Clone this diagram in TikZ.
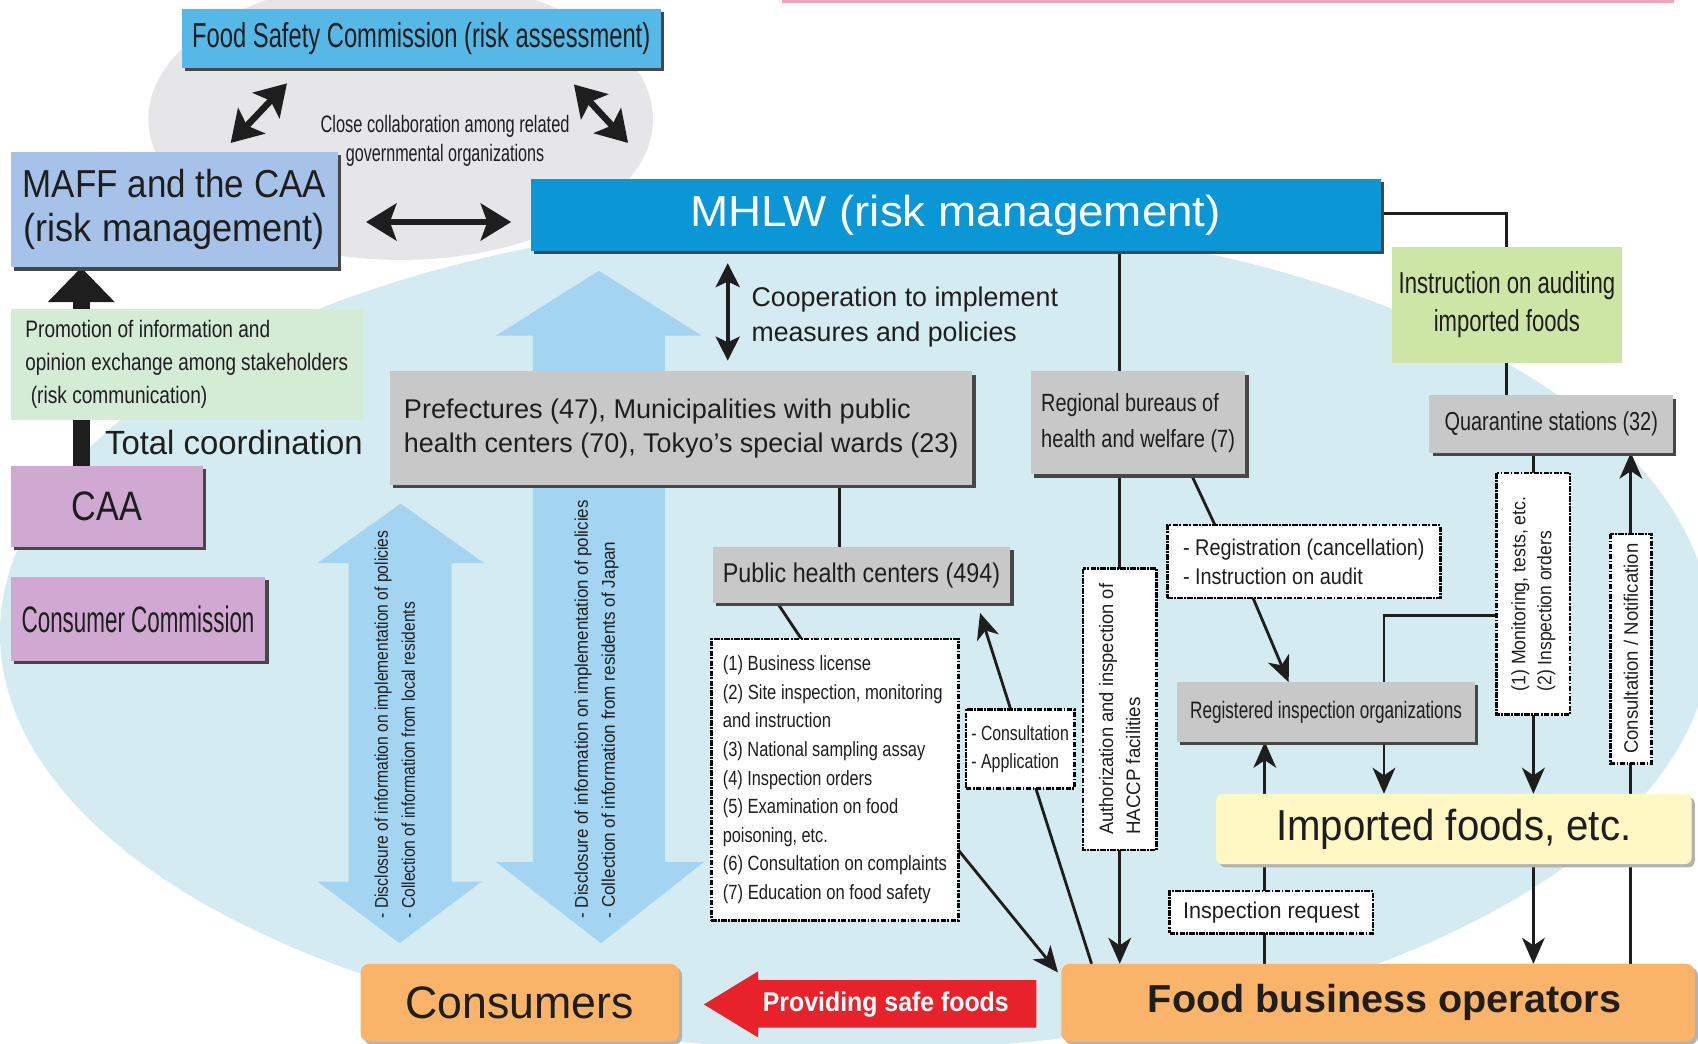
\documentclass[tikz,border=0pt]{standalone}
\usepackage{fontspec}
\setmainfont{Liberation Sans}
\usepackage{graphicx}
\usetikzlibrary{arrows.meta,shadows,calc}
\pgfdeclarelayer{back}\pgfdeclarelayer{lines}\pgfsetlayers{back,lines,main}
\definecolor{bgblue}{HTML}{D5EBF2}
\definecolor{bggray}{HTML}{E6E6E8}
\definecolor{pinkl}{HTML}{F2A3B8}
\definecolor{arrblue}{HTML}{A3D5F2}
\definecolor{fscblue}{HTML}{56B8E6}
\definecolor{maffblue}{HTML}{A6C2E8}
\definecolor{mhlwblue}{HTML}{0B96D6}
\definecolor{promogreen}{HTML}{D4EBD6}
\definecolor{caapink}{HTML}{D0A9D3}
\definecolor{gbox}{HTML}{C8C8C8}
\definecolor{instgreen}{HTML}{CDE5A5}
\definecolor{impyellow}{HTML}{FFF8C4}
\definecolor{orangec}{HTML}{FAB46A}
\definecolor{redc}{HTML}{E8222A}
\definecolor{txt}{HTML}{1E1E1E}
\newcommand\fw[2]{\resizebox{#1pt}{\height}{#2}}
\begin{document}
\begin{tikzpicture}[x=1pt,y=-1pt,
 box/.style={draw=none,inner sep=0pt,outer sep=0pt,text=txt,align=center},
 shd/.style={drop shadow={shadow xshift=3pt,shadow yshift=-3pt,fill=black!72,opacity=1}},
 softshd/.style={drop shadow={shadow xshift=3pt,shadow yshift=-3pt,fill=black!30,opacity=1}},
 dbox/.style={draw=black,line width=2.3pt,dash pattern=on 5pt off 1.3pt on 1.6pt off 1.3pt,fill=white,inner sep=0pt,outer sep=0pt,text=txt},
 con/.style={line width=2.6pt,draw=txt},
 arr/.style={con,-{Stealth[length=24pt,width=21pt,inset=7pt]}},
 dbl/.style={line width=6pt,draw=txt,{Stealth[length=28pt,width=34pt,inset=6pt]}-{Stealth[length=28pt,width=34pt,inset=6pt]}},
 dblm/.style={line width=4pt,draw=txt,{Stealth[length=22pt,width=22pt,inset=5pt]}-{Stealth[length=22pt,width=22pt,inset=5pt]}}
]
\useasboundingbox (0,0) rectangle (1568,964);
\begin{pgfonlayer}{back}
\clip (0,0) rectangle (1568,964);
\fill[bggray] (370,110) ellipse [x radius=233pt, y radius=130pt];
\fill[bgblue] (790,585) ellipse [x radius=790pt, y radius=385pt];
\fill[pinkl] (722,0) rectangle (1546,2.5);
\fill[arrblue] (370,465) -- (447,520) -- (417,520) -- (417,814) -- (445,814) -- (369,871) -- (293,814) -- (322,814) -- (322,520) -- (293,520) -- cycle;
\fill[arrblue] (553,250) -- (648,310) -- (614,310) -- (614,796) -- (650,796) -- (555,871) -- (458,796) -- (492,796) -- (492,310) -- (458,310) -- cycle;
\end{pgfonlayer}

% nodes
\node[box,fill=fscblue,shd,minimum width=442pt,minimum height=55pt,font=\fontsize{32}{36}\selectfont] (fsc) at (389,35.5) {\fw{423}{Food Safety Commission (risk assessment)}};
\node[box,fill=maffblue,shd,minimum width=302pt,minimum height=107pt,font=\fontsize{36}{40}\selectfont] (maff) at (161,193.5) {\fw{280}{MAFF and the CAA}\\\fw{278}{(risk management)}};
\node[box,fill=mhlwblue,shd,minimum width=785pt,minimum height=67pt,text=white,font=\fontsize{40}{44}\selectfont] (mhlw) at (882.5,198.5) {\fw{490}{MHLW (risk management)}};
\node[box,font=\fontsize{22}{26}\selectfont] (close) at (411,130) {\fw{230}{Close collaboration among related}\\\fw{183}{governmental organizations}};
\node[box,fill=promogreen,minimum width=325pt,minimum height=103pt,align=left,font=\fontsize{22}{30.5}\selectfont] (promo) at (172.5,336.5) {\fw{226}{Promotion of information and}\\\fw{298}{opinion exchange among stakeholders}\\\hspace{5pt}\fw{163}{(risk communication)}};
\node[box,anchor=west,font=\fontsize{31}{34}\selectfont] (totc) at (97,409) {\fw{238}{Total coordination}};
\node[box,fill=caapink,shd,minimum width=177pt,minimum height=75pt,font=\fontsize{38}{40}\selectfont] (caa) at (98.5,467.5) {\fw{65}{CAA}};
\node[box,fill=caapink,shd,minimum width=235pt,minimum height=77pt,font=\fontsize{34}{36}\selectfont] (cc) at (127.5,571.5) {\fw{215}{Consumer Commission}};
\node[box,anchor=west,align=left,font=\fontsize{25}{32}\selectfont] (coop) at (694,293) {\fw{283}{Cooperation to implement}\\\fw{245}{measures and policies}};
\node[box,fill=gbox,shd,minimum width=538pt,minimum height=105pt,align=left,font=\fontsize{25}{31}\selectfont] (pref) at (629,395.5) {\fw{468}{Prefectures (47), Municipalities with public}\\\fw{512}{health centers (70), Tokyo’s special wards (23)}};
\node[box,fill=gbox,shd,minimum width=275pt,minimum height=52pt,font=\fontsize{25}{28}\selectfont] (phc) at (795.5,531) {\fw{256}{Public health centers (494)}};
\node[dbox,minimum width=228pt,minimum height=260pt,align=left,font=\fontsize{19}{26.4}\selectfont] (list) at (771,720) {\fw{137}{(1) Business license}\\\fw{203}{(2) Site inspection, monitoring}\\\fw{100}{and instruction}\\\fw{187}{(3) National sampling assay}\\\fw{138}{(4) Inspection orders}\\\fw{162}{(5) Examination on food}\\\fw{97}{poisoning, etc.}\\\fw{207}{(6) Consultation on complaints}\\\fw{192}{(7) Education on food safety}};
\node[dbox,minimum width=100pt,minimum height=73pt,align=left,font=\fontsize{19}{26}\selectfont] (consul) at (942,691.5) {\fw{90}{- Consultation}\\\fw{81}{- Application}};
\node[box,fill=gbox,shd,minimum width=198pt,minimum height=95pt,align=left,font=\fontsize{23}{33}\selectfont] (reg) at (1051,390.5) {\fw{164}{Regional bureaus of}\\\fw{179}{health and welfare (7)}};
\node[dbox,rotate=90,minimum width=260pt,minimum height=68pt,align=left,font=\fontsize{18}{25}\selectfont] (auth) at (1034,655) {\fw{232}{Authorization and inspection of}\\\fw{127}{HACCP facilities}};
\node[dbox,minimum width=252pt,minimum height=67pt,align=left,font=\fontsize{21}{27}\selectfont] (regis) at (1204,518.5) {\fw{223}{- Registration (cancellation)}\\\fw{166}{- Instruction on audit}};
\node[box,fill=gbox,shd,minimum width=275pt,minimum height=55pt,font=\fontsize{22}{26}\selectfont] (rio) at (1224.5,657.5) {\fw{251}{Registered inspection organizations}};
\node[box,fill=instgreen,minimum width=213pt,minimum height=107pt,font=\fontsize{28}{35}\selectfont] (inst) at (1391.5,281.5) {\fw{200}{Instruction on auditing}\\\fw{135}{imported foods}};
\node[box,fill=gbox,shd,minimum width=225pt,minimum height=53pt,font=\fontsize{24}{28}\selectfont] (quar) at (1432.5,391.5) {\fw{197}{Quarantine stations (32)}};
\node[dbox,rotate=90,minimum width=223pt,minimum height=68pt,align=left,font=\fontsize{18}{24}\selectfont] (mon) at (1416,548.5) {\fw{180}{(1) Monitoring, tests, etc.}\\\fw{148}{(2) Inspection orders}};
\node[dbox,rotate=90,minimum width=212pt,minimum height=38pt,font=\fontsize{18}{22}\selectfont] (cn) at (1506,599) {\fw{194}{Consultation / Notification}};
\node[box,fill=impyellow,rounded corners=6pt,softshd,minimum width=439pt,minimum height=65pt,font=\fontsize{40}{44}\selectfont] (imp) at (1342.5,765.5) {\fw{328}{Imported foods, etc.}};
\node[dbox,minimum width=188pt,minimum height=39pt,font=\fontsize{21}{24}\selectfont] (ireq) at (1174,842.5) {\fw{163}{Inspection request}};
\node[box,fill=orangec,rounded corners=8pt,softshd,minimum width=585pt,minimum height=72pt,font=\fontsize{36}{40}\selectfont\bfseries] (fbo) at (1272.5,926) {\hspace{12pt}\fw{437}{Food business operators}};
\node[box,fill=orangec,rounded corners=8pt,softshd,minimum width=294pt,minimum height=72pt,font=\fontsize{42}{46}\selectfont] (cons) at (480,926) {\fw{211}{Consumers}};
\fill[redc] (957,905) -- (700,905) -- (700,897) -- (650,927.5) -- (700,958) -- (700,949) -- (957,949) -- cycle;
\node[box,text=white,font=\fontsize{25}{28}\selectfont\bfseries] (prov) at (818,928) {\fw{227}{Providing safe foods}};
\node[box,rotate=90,anchor=west,align=left,font=\fontsize{17}{25}\selectfont] (t1) at (364.5,848) {\fw{358}{- Disclosure of information on implementation of policies}\\\fw{292}{- Collection of information from local residents}};
\node[box,rotate=90,anchor=west,align=left,font=\fontsize{17}{25}\selectfont] (t2) at (551,848) {\fw{386}{- Disclosure of information on implementation of policies}\\\fw{348}{- Collection of information from residents of Japan}};
\coordinate (mj) at (1278,568);
\coordinate (irx) at (1168,842);

\begin{pgfonlayer}{lines}
\draw[dbl] ([shift={(97pt,-14pt)}]fsc.south west) -- ([shift={(52pt,8pt)}]maff.north);
\draw[dbl] ([shift={(-80pt,-15pt)}]fsc.south east) -- ([shift={(90pt,33pt)}]mhlw.north west);
\draw[dbl] ([shift={(26pt,-11.5pt)}]maff.east) -- ([shift={(-18pt,-6.5pt)}]mhlw.west);
\draw[dblm] ([shift={(182pt,-11pt)}]mhlw.south west) -- ([shift={(312pt,10pt)}]pref.north west);
\draw[draw=txt,line width=16pt,-{Triangle[length=32pt,width=60pt]}] ([xshift=-23.5pt]caa.north) -- ([xshift=-86pt]maff.south);
\draw[con] (mhlw.south -| auth.center) -- (reg.north -| auth.center);
\draw[arr] (reg.south -| auth.center) -- (fbo.north -| auth.center);
\draw[con] ([xshift=148pt]reg.south west) -- ([xshift=44pt]regis.north west);
\draw[arr] ([xshift=79pt]regis.south west) -- ([xshift=103pt]rio.north west);
\draw[con] ([yshift=1.5pt]mhlw.east) -| (inst.north);
\draw[con] (inst.south) -- (inst.south |- quar.north);
\draw[con] (mon.east |- quar.south) -- (mon.east);
\draw[arr] (mon.west) -- (mon.west |- imp.north);
\draw[arr] (mj -| mon.north) -- (mj) -- (mj |- imp.north);
\draw[arr] (imp.south -| mon.center) -- (fbo.north -| mon.center);
\draw[arr] (fbo.north -| cn.center) -- (quar.south -| cn.center);
\draw[arr] (fbo.north -| irx) -- (rio.south -| irx);
\draw[con] ($(phc.north west)+(117,0)$) coordinate (pp) -- (pp |- pref.south);
\draw[con] ([xshift=60pt]phc.south west) -- ([xshift=83pt]list.north west);
\draw[arr] ([yshift=-65pt]list.east) -- ([shift={(-3pt,-8pt)}]fbo.north west);
\draw[arr] ([xshift=28pt]fbo.north west) -- ([shift={(-28pt,-9pt)}]phc.south east);
\end{pgfonlayer}
\end{tikzpicture}
\end{document}
